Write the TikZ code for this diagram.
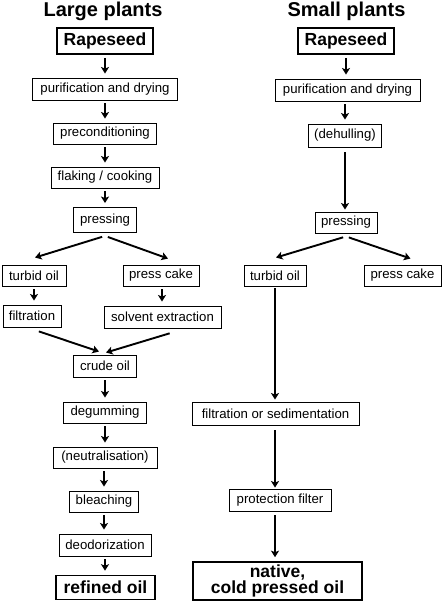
\documentclass[tikz,border=0pt]{standalone}
\usepackage{fontspec}
\setmainfont{Liberation Sans}
\usetikzlibrary{arrows.meta}
\begin{document}
\begin{tikzpicture}[x=1pt,y=-1pt,
  box/.style={draw, line width=0.9pt, inner sep=0pt, font=\fontsize{13.2}{15}\selectfont, minimum height=21pt},
  bigbox/.style={draw, line width=1.6pt, inner sep=0pt, font=\fontsize{17.5}{16}\selectfont\bfseries, align=center},
  ttl/.style={font=\fontsize{20}{22}\selectfont\bfseries, inner sep=0pt, anchor=base},
  arr/.style={line width=1.9pt, -{Stealth[length=6.5pt,width=8pt,inset=1.5pt]}, shorten <=3pt, shorten >=4pt}]
\useasboundingbox (0,0) rectangle (442,604);
% titles
\node[ttl] (titleL) at (103,17) {Large plants};
\node[ttl] (titleR) at (346.5,17) {Small plants};
% left column
\node[bigbox, minimum width=96pt, minimum height=26pt] (rapL) at (105,41) {Rapeseed};
\node[box, minimum width=145pt, minimum height=22pt] (purL) at (105,89) {purification and drying};
\node[box, minimum width=103pt] (preL) at (105,133.5) {preconditioning};
\node[box, minimum width=108pt] (flkL) at (105,177.5) {flaking / cooking};
\node[box, minimum width=63pt, minimum height=25pt] (prsL) at (105,220) {pressing};
\node[box, minimum width=64pt] (turL) at (34,275.5) {turbid oil};
\node[box, minimum width=76pt] (cakL) at (161,275.5) {press cake};
\node[box, minimum width=58pt, minimum height=22pt] (filL) at (32,316) {filtration};
\node[box, minimum width=117pt, minimum height=22pt] (solL) at (162.5,317) {solvent extraction};
\node[box, minimum width=63pt, minimum height=22pt] (crdL) at (105,366) {crude oil};
\node[box, minimum width=83pt] (degL) at (105,412.5) {degumming};
\node[box, minimum width=104pt] (neuL) at (105,457.5) {(neutralisation)};
\node[box, minimum width=69pt] (blL) at (104,501.5) {bleaching};
\node[box, minimum width=92pt, minimum height=22pt] (deoL) at (105,545) {deodorization};
\node[bigbox, minimum width=99pt, minimum height=24pt] (refL) at (105.5,587.5) {refined oil};
% right column
\node[bigbox, minimum width=96pt, minimum height=26pt] (rapR) at (346,41) {Rapeseed};
\node[box, minimum width=145pt, minimum height=22pt] (purR) at (347.5,90) {purification and drying};
\node[box, minimum width=73pt, minimum height=23pt] (dehR) at (345,135.5) {(dehulling)};
\node[box, minimum width=62pt] (prsR) at (346,222.5) {pressing};
\node[box, minimum width=62pt] (turR) at (275,275.5) {turbid oil};
\node[box, minimum width=77pt] (cakR) at (402.5,275.5) {press cake};
\node[box, minimum width=167pt, minimum height=23pt] (fsR) at (275.5,413.5) {filtration or sedimentation};
\node[box, minimum width=102pt, minimum height=22pt] (pfR) at (280,500) {protection filter};
\node[bigbox, minimum width=169pt, minimum height=38pt] (natR) at (277.5,581) {native,\\cold pressed oil};
% left arrows
\draw[arr] (rapL.south) -- (rapL.south |- purL.north);
\draw[arr] (purL.south) -- (purL.south |- preL.north);
\draw[arr] (preL.south) -- (preL.south |- flkL.north);
\draw[arr] (flkL.south) -- (flkL.south |- prsL.north);
\draw[arr, shorten >=0pt] ([yshift=-3pt]prsL.south) -- ([xshift=1pt,yshift=7pt]turL.north);
\draw[arr, shorten >=0pt] ([yshift=-3pt]prsL.south) -- ([xshift=7pt,yshift=6pt]cakL.north);
\draw[arr] (turL.south) -- (turL.south |- filL.north);
\draw[arr] ([xshift=1pt]cakL.south) -- ([xshift=1pt]cakL.south |- solL.north);
\draw[arr, shorten >=0pt] ([xshift=4pt,yshift=-3pt]filL.south) -- ([xshift=-6pt,yshift=3pt]crdL.north);
\draw[arr, shorten >=0pt] ([xshift=10pt,yshift=-4pt]solL.south) -- ([xshift=1pt,yshift=2pt]crdL.north);
\draw[arr] (crdL.south) -- (crdL.south |- degL.north);
\draw[arr] (degL.south) -- (degL.south |- neuL.north);
\draw[arr] (blL.north |- neuL.south) -- (blL.north);
\draw[arr] (blL.south) -- (blL.south |- deoL.north);
\draw[arr] (deoL.south) -- (deoL.south |- refL.north);
% right arrows
\draw[arr] (rapR.south) -- (rapR.south |- purR.north);
\draw[arr] (dehR.north |- purR.south) -- (dehR.north);
\draw[arr, shorten <=5pt, shorten >=2pt] (dehR.south) -- (dehR.south |- prsR.north);
\draw[arr, shorten >=0pt] ([yshift=-3pt]prsR.south) -- ([xshift=1pt,yshift=7pt]turR.north);
\draw[arr, shorten >=0pt] ([yshift=-3pt]prsR.south) -- ([xshift=8pt,yshift=6pt]cakR.north);
\draw[arr, shorten <=2pt, shorten >=2pt] (turR.south) -- (turR.south |- fsR.north);
\draw[arr, shorten <=5pt, shorten >=1pt] (turR.south |- fsR.south) -- (turR.south |- pfR.north);
\draw[arr, shorten <=4pt, shorten >=4pt] (turR.south |- pfR.south) -- (turR.south |- natR.north);
\end{tikzpicture}
\end{document}
